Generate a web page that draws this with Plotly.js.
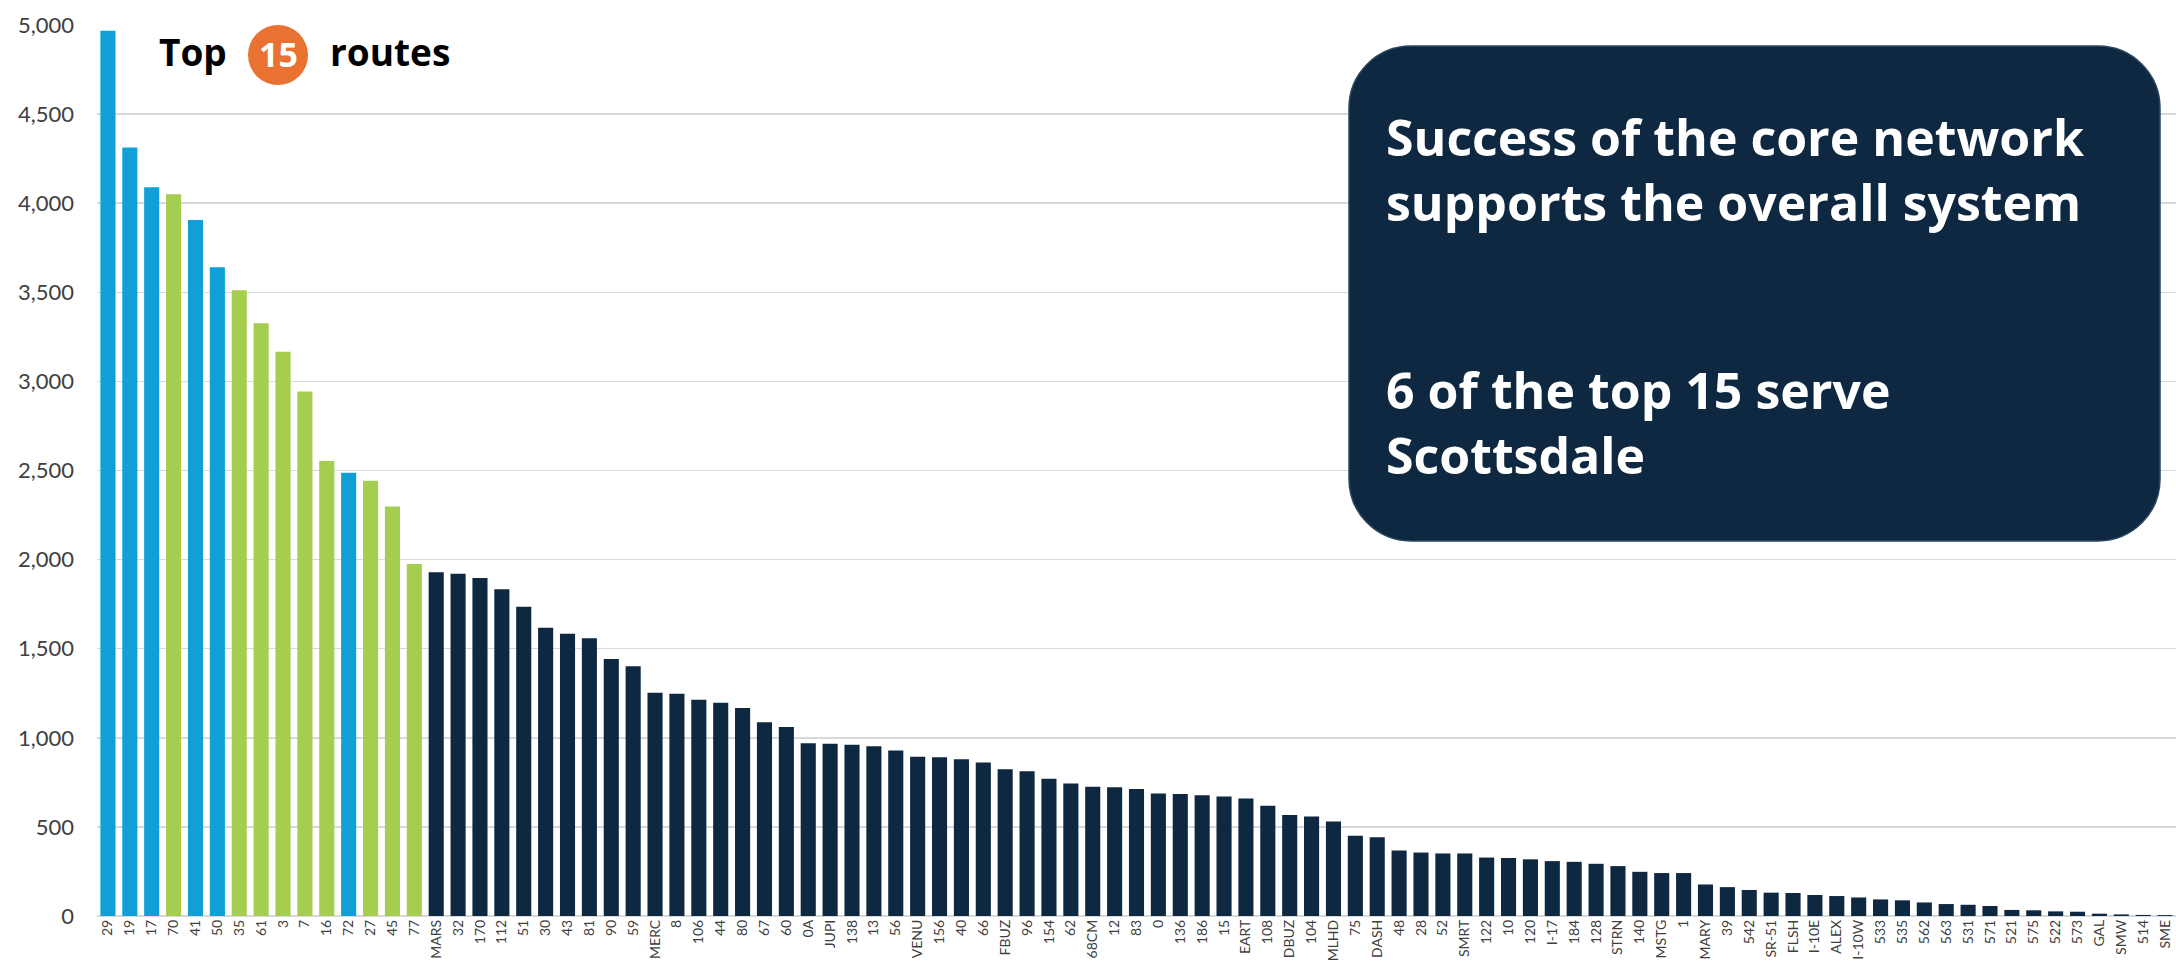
<!DOCTYPE html>
<html>
<head>
<meta charset="utf-8">
<script src="https://cdn.plot.ly/plotly-3.0.1.min.js"></script>
<style>
html,body{margin:0;padding:0;background:#fff;}
#chart{width:2176px;height:973px;}
</style>
</head>
<body>
<div id="chart"></div>
<script>
// ---- data ----
const routes = ['29','19','17','70','41','50','35','61','3','7','16','72','27','45','77',
  'MARS','32','170','112','51','30','43','81','90','59','MERC','8','106','44','80','67','60',
  '0A','JUPI','138','13','56','VENU','156','40','66','FBUZ','96','154','62','68CM','12','83',
  '0','136','186','15','EART','108','DBUZ','104','MLHD','75','DASH','48','28','52','SMRT','122',
  '10','120','I-17','184','128','STRN','140','MSTG','1','MARY','39','542','SR-51','FLSH','I-10E','ALEX','I-10W',
  '533','535','562','563','531','571','521','575','522','573','GAL','SMW','514','SME'];
const ridership = [4968,4312,4089,4050,3906,3640,3512,3327,3167,2943,2554,2488,2443,2298,1975,
  1929,1920,1897,1833,1736,1617,1584,1559,1442,1401,1253,1247,1214,1197,1167,1087,1061,
  970,967,961,952,929,894,891,879,862,823,812,770,744,726,722,713,
  688,685,677,670,659,618,567,558,530,451,442,368,356,351,351,328,
  325,318,308,304,293,280,248,241,241,177,162,146,131,129,118,112,104,
  93,88,76,67,63,56,34,32,26,24,13,9,6,5];
const topN = 15;
const scottsdaleTop = ['29','19','17','41','50','72'];
const yTicks = [0,500,1000,1500,2000,2500,3000,3500,4000,4500,5000];
const headlineLines = ['Success of the core network','supports the overall system'];
const noteLines = ['6 of the top 15 serve','Scottsdale'];

// ---- styling ----
const BLUE = '#109FD6', GREEN = '#A5CD4F', NAVY = '#0F2841', ORANGE = '#E97132';
const W = 2176, H = 973, ML = 97, MR = 0, MT = 25, MB = 57;
const PW = W - ML - MR, PH = H - MT - MB;
const px = x => (x - ML) / PW;
const py = y => (H - MB - y) / PH;

const colors = routes.map((r, i) => i < topN ? (scottsdaleTop.includes(r) ? BLUE : GREEN) : NAVY);

const trace = {
  type: 'bar',
  x: routes,
  y: ridership,
  marker: {color: colors, line: {width: 0}},
  hoverinfo: 'x+y'
};

// rounded rectangle path in paper coords
function roundRect(x0, y0, x1, y1, r) {
  const rx = r / PW, ry = r / PH, k = 0.5523;
  const X0 = px(x0), X1 = px(x1), Y0 = py(y1), Y1 = py(y0);
  return `M ${X0+rx},${Y1} L ${X1-rx},${Y1} C ${X1-rx+rx*k},${Y1} ${X1},${Y1-ry+ry*k} ${X1},${Y1-ry} ` +
    `L ${X1},${Y0+ry} C ${X1},${Y0+ry-ry*k} ${X1-rx+rx*k},${Y0} ${X1-rx},${Y0} ` +
    `L ${X0+rx},${Y0} C ${X0+rx-rx*k},${Y0} ${X0},${Y0+ry-ry*k} ${X0},${Y0+ry} ` +
    `L ${X0},${Y1-ry} C ${X0},${Y1-ry+ry*k} ${X0+rx-rx*k},${Y1} ${X0+rx},${Y1} Z`;
}

const FONT = 'Lato, "Open Sans", sans-serif';
const BOXFONT = '"Open Sans", Lato, sans-serif';
const annotations = [];
annotations.push({xref:'paper', yref:'paper', x: px(157), y: py(52), xanchor:'left', yanchor:'middle',
  text:'<b>Top</b>', showarrow:false, font:{family:BOXFONT, size:37, color:'#000'}});
annotations.push({xref:'paper', yref:'paper', x: px(278), y: py(54), xanchor:'center', yanchor:'middle',
  text:'<b>15</b>', showarrow:false, font:{family:BOXFONT, size:34, color:'#fff'}});
annotations.push({xref:'paper', yref:'paper', x: px(328), y: py(52), xanchor:'left', yanchor:'middle',
  text:'<b>routes</b>', showarrow:false, font:{family:BOXFONT, size:37, color:'#000'}});
annotations.push({xref:'paper', yref:'paper', x: px(1384), y: py(169), xanchor:'left', yanchor:'middle', align:'left',
  text:'<b>' + headlineLines.join('<br>') + '</b>', showarrow:false, font:{family:BOXFONT, size:50, color:'#fff'}});
annotations.push({xref:'paper', yref:'paper', x: px(1384), y: py(423), xanchor:'left', yanchor:'middle', align:'left',
  text:'<b>' + noteLines.join('<br>') + '</b>', showarrow:false, font:{family:BOXFONT, size:50, color:'#fff'}});

const layout = {
  width: W, height: H,
  margin: {l: ML, r: MR, t: MT, b: MB, pad: 0},
  paper_bgcolor: '#fff', plot_bgcolor: '#fff',
  showlegend: false,
  bargap: 0.31,
  font: {family: FONT, color: '#404040'},
  xaxis: {
    type: 'category',
    tickangle: -90,
    tickfont: {size: 14, color: '#404040'},
    showgrid: false,
    showline: false,
    ticks: '',
    automargin: false
  },
  yaxis: {
    range: [0, 5000],
    tickvals: yTicks,
    tickformat: ',',
    tickfont: {size: 22, color: '#404040'},
    showgrid: true,
    gridcolor: '#D9D9D9',
    gridwidth: 1.5,
    zeroline: true,
    zerolinecolor: '#D9D9D9',
    zerolinewidth: 2,
    ticks: '',
    ticklabelstandoff: 22,
    automargin: false
  },
  shapes: [
    {type:'path', xref:'paper', yref:'paper', path: roundRect(1349, 46, 2160, 541, 62),
      fillcolor: NAVY, line:{color:'#2B4560', width:1.5}, layer:'above'},
    {type:'circle', xref:'paper', yref:'paper', x0: px(248), x1: px(308), y0: py(85), y1: py(25),
      fillcolor: ORANGE, line:{width:0}, layer:'above'}
  ],
  annotations: annotations
};

Plotly.newPlot('chart', [trace], layout, {displayModeBar: false, staticPlot: true});
</script>
</body>
</html>
